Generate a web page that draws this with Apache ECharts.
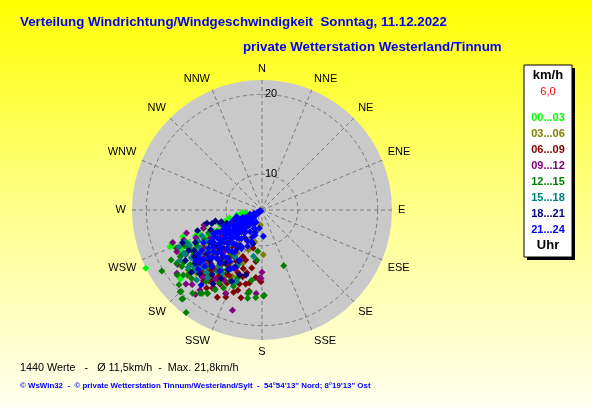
<!DOCTYPE html>
<html><head><meta charset="utf-8">
<script src="https://cdn.jsdelivr.net/npm/echarts@6/dist/echarts.min.js"></script>
<style>html,body{margin:0;padding:0;}#c{width:592px;height:407px;}</style>
</head><body><div id="c"></div>
<script>
// 16 compass directions (angle axis labels)
const directions = ['N','NNE','NE','ENE','E','ESE','SE','SSE','S','SSW','SW','WSW','W','WNW','NW','NNW'];
// labelled speed circles (km/h)
const radiusTicks = [10, 20];
const speedMin = 5.5, speedMax = 21.8;
// time periods (legend)
const periods = ['00...03','03...06','06...09','09...12','12...15','15...18','18...21','21...24'];
const periodColors = ['#00ff00','#808000','#800000','#800080','#008000','#008080','#000080','#0000ff'];

// data points: [speed km/h, direction deg]
const h00 = [[21.8,243.4],[17.9,248.3],[17.5,249.8],[18.9,229.8],[16.9,232.9],[17.4,246.7],[14.2,237.6],[8.0,263],[7.5,258],[8.3,255.5],[8.9,252.2],[9.4,250.6],[9.9,248.1],[10.5,246.5],[9.1,245.8],[8.6,243.7],[10.9,244.2],[11.4,241.6],[7.9,250.4],[8.7,259.2],[9.7,256.3],[10.3,253.1],[11.1,251.2],[12.1,246.4],[12.6,240.7],[13.3,238.2],[11.9,236.1],[10.7,238.4],[9.5,240.3],[14.1,235.3],[13.0,244.6],[15.3,237.2],[13.1,252.5],[11.6,245.1],[12.4,248.7],
 [14.8,243.1],[15.6,246.0],[16.3,240.8],[14.4,248.9],[15.9,234.1],[13.7,241.9],[16.8,244.5],[12.8,233.7],[14.6,230.6],[15.1,226.4],[13.9,249.8],[16.0,251.3]];
const h03 = [[8.8,255.0],[9.1,251.4],[11.1,178.3],[8.1,194.8],[8.5,196.7],[7.9,207.5],[9.6,192.5],[12.4,228.6],[13.1,232.4],[13.8,226.9],[14.3,234.1],[12.9,221.5],[10.6,214.3],[11.7,209.8],[9.6,203.5],[10.2,236.8],[11.3,240.6],[14.9,219.7],[15.6,227.2],[13.5,216.4],[12.2,243.9],[9.3,225.5],[16.2,232.0],[10.8,198.6],[7.4,186.0],
 [13.2,210.6],[14.6,204.1],[15.4,222.9],[16.6,214.2],[14.0,238.9],[15.7,242.8],[12.6,199.7],[13.9,229.5],[16.9,226.1],[12.1,218.6],[15.1,209.3],[14.4,246.2]];
const h06 = [[16.9,203.5],[17.3,202.6],[16.8,193.5],[15.8,189.0],[13.6,193.6],[12.9,190.0],[14.3,181.6],[14.5,180.8],[16.2,209.5],[15.2,197.0],[14.8,189.8],[13.2,197.8],[12.7,206.7],[16.5,222.0],[14.6,209.1],[12.1,198.0],[12.6,214.4],[14.1,216.8],[15.3,213.2],[16.0,218.5],[14.8,223.7],[13.4,220.4],[15.7,205.6],[11.8,202.3],[13.9,201.2],[10.9,208.6],[11.4,219.5],[12.3,225.3],[17.1,212.4],[15.1,228.5],[16.4,199.1],[14.0,185.2],[12.0,186.8],[10.4,193.1],[17.8,207.1],[13.0,231.2],[16.1,215.0],[11.2,213.0],
 [15.9,211.3],[16.6,216.9],[14.7,206.4],[15.5,220.8],[13.7,210.8],[16.3,224.6],[17.5,215.4],[14.2,196.2],[15.0,192.4],[13.3,203.9],[16.0,196.8],[17.0,219.6],[14.5,226.9],[12.4,209.1],[15.6,232.0]];
const h09 = [[15.4,253.0],[15.7,244.6],[18.8,233.4],[18.8,225.8],[19.0,218.2],[18.2,217.8],[18.6,196.4],[13.3,180.0],[14.0,181.7],[13.0,255.5],[17.4,250.0],[17.4,243.9],[18.1,237.2],[18.3,223.2],[14.5,247.2],[10.5,242.6],[14.1,180.8],[16.0,184.0],[16.9,203.4],[13.2,252.7],[12.4,231.0],[13.7,224.2],[15.0,219.3],[11.6,236.4],[14.6,213.8],[12.9,241.5],[16.2,229.7],[11.2,227.6],[10.1,218.5],[15.8,236.6],[17.0,211.2],
 [16.6,239.6],[15.3,226.8],[17.6,228.9],[14.2,236.8],[16.0,249.0],[13.6,204.6],[15.5,207.9],[16.8,221.4],[14.8,231.9],[17.2,245.8],[13.0,214.7],[12.6,222.3],[15.9,214.1]];
const h12 = [[20.2,238.7],[21.5,216.5],[13.0,158.7],[16.3,179.0],[15.9,188.8],[16.7,189.2],[16.2,178.5],[18.0,213.0],[18.4,215.7],[17.1,240.9],[17.8,234.8],[18.3,230.4],[19.9,224.8],[20.4,221.7],[17.9,228.8],[15.9,242.5],[17.8,225.8],[20.0,225.1],[20.5,222.0],[18.5,216.7],[18.0,213.6],[17.1,210.4],[16.4,206.3],[15.7,200.5],[16.1,189.7],[16.5,184.1],[10.7,185.9],[11.8,186.0],[14.4,188.4],[18.1,238.0],[17.3,240.3],[18.5,241.2],[16.6,226.5],[17.0,228.3],[17.4,230.9],[16.8,232.6],[15.2,234.8],[14.6,229.1],[13.8,221.0],[15.0,216.2],[14.2,210.5],[12.9,236.2],[13.6,243.0],[19.1,219.8],[16.0,220.4],[12.2,214.8],[11.5,231.0],
 [15.6,238.4],[16.2,245.5],[14.8,241.1],[15.4,223.4],[14.3,217.6],[16.9,218.0],[15.3,204.2],[14.6,199.8],[17.3,236.3],[13.4,228.4],[12.8,246.8],[16.1,210.2],[18.9,232.5],[19.5,228.0]];
const h15 = [[16.7,241.2],[15.0,199.4],[17.5,223.0],[16.6,240.1],[16.6,230.5],[15.1,234.0],[11.4,190.5],[15.1,200.6],[14.2,226.3],[13.5,231.7],[12.8,236.9],[12.0,229.4],[11.3,222.8],[13.1,218.0],[14.6,238.4],[15.6,244.1],[16.2,236.0],[10.6,233.1],[12.5,245.3],[14.9,212.3],[13.9,207.7],[15.8,226.0],[17.2,232.1],[11.0,240.2],[10.2,226.7],[16.4,218.6],[12.3,209.9],[13.7,246.8],[9.6,236.0],
 [15.9,247.3],[16.9,246.0],[14.4,244.0],[15.4,239.7],[16.0,221.7],[14.5,215.9],[13.0,203.6],[16.8,227.8],[15.3,228.8],[17.6,238.5],[12.9,224.7],[14.0,233.8],[13.4,240.8]];
const h18 = [[11.5,256.8],[10.8,253.8],[12.6,256.5],[12.0,255.0],[11.0,252.8],[10.2,249.3],[9.9,195.2],[14.1,199.2],[15.8,235.4],[16.7,224.4],[13.9,193.8],[13.2,238.0],[14.3,231.5],[12.7,227.2],[15.0,221.5],[11.7,243.6],[13.6,214.6],[12.1,219.7],[16.2,231.3],[14.8,244.0],[10.8,237.5],[13.4,205.3],[15.5,210.8],[12.4,248.7],[17.0,236.6],[9.4,230.2],[11.2,212.6],[14.0,252.1],
 [16.0,241.0],[14.6,225.8],[15.7,217.7],[16.6,213.5],[14.1,209.5],[15.4,238.9],[13.0,233.3],[17.3,228.5],[13.8,218.7],[12.5,204.3],[15.2,203.1],[16.3,247.6]];
const h21 = [[8.8,177.0],[15.7,229.6],[15.2,235.2],[17.6,219.1],[8.8,255.0],[9.7,198.0],[8.8,195.6],[7.8,188.3],[13.6,206.2],[14.0,218.2],[16.4,227.0],[16.0,232.6],
 [14.6,236.0],[13.9,240.9],[15.6,225.4],[14.9,222.1],[14.8,214.6],[13.9,208.8],[12.4,204.0],[11.0,207.9],[12.2,243.9],[15.4,232.4],
 [7.2,205.3],[8.0,202.4],[8.6,208.7],[9.1,199.6],[9.8,205.1],[7.6,210.9],[10.4,201.8],[10.8,209.3],[8.4,196.9],
 [7.1,250.4],[8.1,249.6],[9.3,250.8],
 [6.6,247.2],[7.7,246.5],[8.6,247.8],[9.8,246.9],[10.7,247.4],
 [6.2,244.3],[7.3,243.6],[8.2,244.8],[9.1,243.9],[10.0,244.6],[10.9,243.4],[11.8,244.1],
 [6.0,241.4],[6.9,240.6],[7.9,241.7],[8.8,240.9],[9.6,241.2],[10.6,240.4],[11.5,241.8],[12.4,240.7],
 [5.8,238.3],[6.7,237.6],[7.5,238.7],[8.4,237.9],[9.4,238.4],[10.3,237.5],[11.1,238.6],[12.1,237.8],[13.0,238.2],
 [5.7,235.4],[6.5,234.6],[7.4,235.8],[8.3,234.9],[9.2,235.3],[10.1,234.5],[10.9,235.7],[11.9,234.8],[12.8,235.2],[13.7,234.6],
 [5.9,232.2],[6.8,231.5],[7.7,232.6],[8.6,231.8],[9.5,232.4],[10.5,231.6],[11.3,232.7],[12.3,231.9],[13.2,232.3],[14.1,231.4],
 [6.2,229.3],[7.1,228.6],[8.0,229.7],[8.9,228.8],[9.9,229.4],[10.8,228.5],[11.7,229.6],[12.6,228.7],[13.5,229.2],[14.4,228.4],[15.1,229.8],
 [6.9,226.2],[7.8,225.4],[8.8,226.6],[9.7,225.7],[10.6,226.3],[11.5,225.5],[12.4,226.8],[13.3,225.9],[14.1,226.4],
 [7.5,223.3],[8.4,222.6],[9.3,223.7],[10.2,222.8],[11.1,223.4],[12.0,222.5],[12.9,223.6],[13.8,222.7],
 [8.1,220.2],[9.1,219.5],[10.1,220.6],[11.0,219.7],[12.1,220.3],[13.1,219.4],
 [8.9,216.3],[9.9,215.6],[10.9,216.7],[11.9,215.8],[12.9,216.2],
 [9.6,212.4],[10.7,211.6],[11.8,212.7],[13.1,211.8]];
const seriesData = [h00,h03,h06,h09,h12,h15,h18,h21];

const FONT = "'Liberation Sans', Arial, sans-serif";
const chart = echarts.init(document.getElementById('c'), null, {renderer:'canvas'});

const legendTexts = [
  {text:'km/h', y:75, color:'#000', size:13, bold:true},
  {text:'6,0', y:92, color:'#ff0000', size:11, bold:false}
].concat(periods.map((p,i)=>({text:p, y:118 + i*16, color:periodColors[i], size:11, bold:true})))
 .concat([{text:'Uhr', y:245, color:'#000', size:13, bold:true}]);

const graphic = [
  {type:'text', left:20, top:16, style:{text:'Verteilung Windrichtung/Windgeschwindigkeit  Sonntag, 11.12.2022', fill:'#0000ff', font:'bold 13.3px '+FONT}},
  {type:'text', left:243, top:41, style:{text:'private Wetterstation Westerland/Tinnum', fill:'#0000ff', font:'bold 13.3px '+FONT}},
  {type:'text', left:20, top:363, style:{text:'1440 Werte   -   Ø 11,5km/h  -  Max. 21,8km/h', fill:'#000', font:'10.8px '+FONT}},
  {type:'text', left:20, top:382, style:{text:'© WsWin32  -  © private Wetterstation Tinnum/Westerland/Sylt  -  54°54\'13" Nord; 8°19\'13" Ost', fill:'#0000ff', font:'bold 7.9px '+FONT}},
  {type:'rect', shape:{x:527, y:68, width:48, height:192}, style:{fill:'#000'}},
  {type:'rect', shape:{x:524, y:65, width:48, height:192}, style:{fill:'#fff', stroke:'#000', lineWidth:1}}
].concat(legendTexts.map(t=>({type:'text', x:548, y:t.y, style:{text:t.text, fill:t.color, font:(t.bold?'bold ':'')+t.size+'px '+FONT, align:'center', verticalAlign:'middle'}})));

const dashed = {color:'#7a7a7a', type:[4,3], width:1};
chart.setOption({
  animation:false,
  backgroundColor:{type:'linear', x:0, y:0, x2:0, y2:1, colorStops:[{offset:0,color:'#ffff00'},{offset:0.5,color:'#ffff88'},{offset:1,color:'#fffff0'}]},
  polar:[{center:[262,210], radius:130},{center:[262,210], radius:130}],
  angleAxis:[{
    polarIndex:0, z:0, type:'value', min:0, max:360, interval:22.5, startAngle:90, clockwise:true,
    axisLine:{show:false}, axisTick:{show:false}, axisLabel:{show:false}, splitLine:{show:false},
    splitArea:{show:true, areaStyle:{color:['#c9c9c9']}}
  },{
    polarIndex:1, z:1, type:'value', min:0, max:360, interval:22.5, startAngle:90, clockwise:true,
    axisLine:{show:false}, axisTick:{show:false},
    axisLabel:{margin:6, color:'#000', fontSize:11, fontFamily:FONT,
      formatter:v=> v>=360 ? '' : directions[Math.round(v/22.5)%16]},
    splitLine:{show:true, lineStyle:dashed},
    splitArea:{show:false}
  }],
  radiusAxis:[{
    polarIndex:0, z:0, type:'value', min:speedMin, max:speedMax,
    axisLine:{show:false}, axisTick:{show:false}, axisLabel:{show:false}, splitLine:{show:false}
  },{
    polarIndex:1, z:1, type:'value', min:speedMin, max:speedMax,
    axisLine:{show:false},
    axisTick:{show:false, customValues:radiusTicks},
    axisLabel:{show:true, customValues:radiusTicks, color:'#000', fontSize:11, fontFamily:FONT, margin:-3, align:'left', verticalAlign:'middle', padding:[0,0,2,0]},
    splitLine:{show:true, lineStyle:dashed}
  }],
  graphic:graphic,
  series:periods.map((p,i)=>({
    name:p, type:'scatter', coordinateSystem:'polar', polarIndex:1, data:seriesData[i],
    symbol:'diamond', symbolSize:7, silent:true, z:2,
    itemStyle:{color:periodColors[i], opacity:1}
  }))
});
</script></body></html>
